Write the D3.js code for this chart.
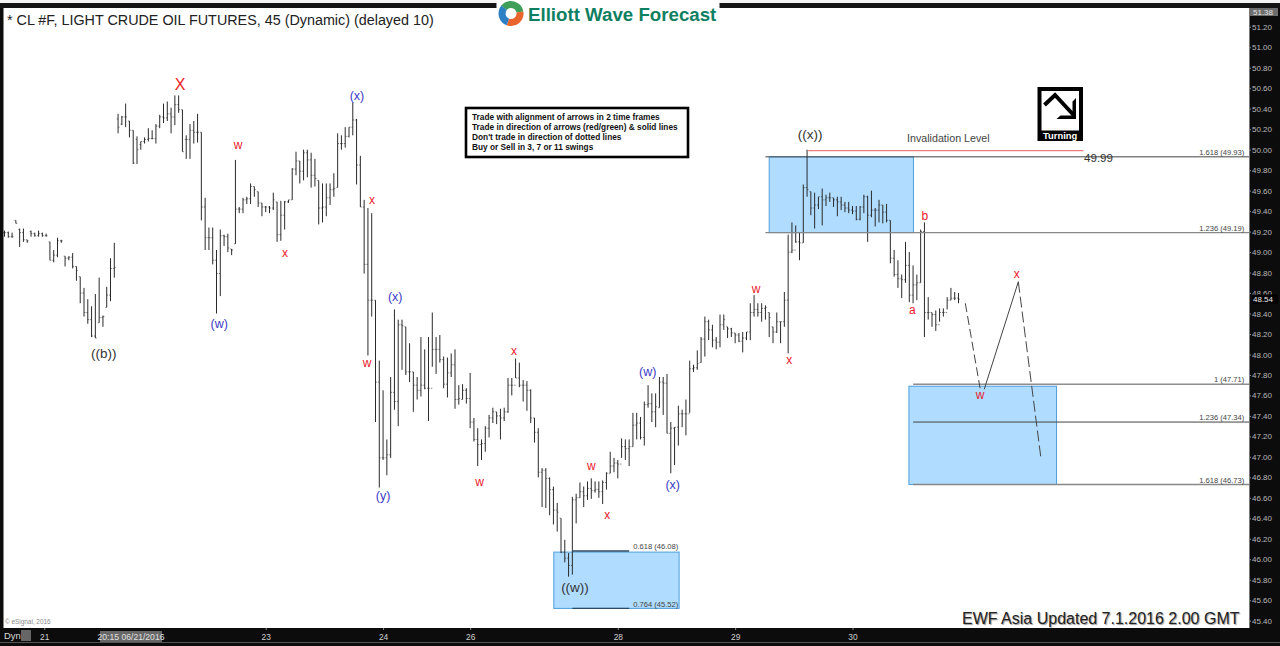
<!DOCTYPE html>
<meta charset="utf-8">
<script src="https://d3js.org/d3.v7.min.js"></script>
<style>
  html, body { margin: 0; padding: 0; background: #0c0c0c; }
  svg { display: block; font-family: "Liberation Sans", Arial, sans-serif; }
</style>
<div id="my_dataviz"></div>
<script>
// 45 min bars
var highs = [
  49.21,49.20,49.19,49.31,49.23,49.23,49.12,49.21,49.19,49.21,49.19,49.18,49.10,49.02,49.14,49.12,48.96,48.96,48.99,48.86,
  48.76,48.65,48.54,48.47,48.59,48.75,48.38,48.66,48.94,49.09,50.35,50.33,50.45,50.28,50.19,50.13,50.08,50.12,50.21,50.19,
  50.25,50.34,50.45,50.47,50.41,50.53,50.53,50.39,50.14,50.25,50.28,50.35,50.17,49.53,49.24,49.24,49.02,49.22,49.17,49.18,
  49.03,49.90,49.44,49.53,49.54,49.67,49.64,49.59,49.48,49.45,49.45,49.58,49.49,49.50,49.50,49.51,49.82,49.98,49.89,50.00,
  50.00,49.97,49.91,49.70,49.67,49.67,49.67,49.77,50.16,50.14,50.22,50.22,50.46,50.30,49.94,49.51,49.43,49.38,48.53,47.94,
  47.65,47.17,47.78,48.44,48.34,48.34,48.27,48.11,47.83,47.78,48.17,48.05,48.17,48.41,48.17,48.19,47.98,47.97,48.01,48.05,
  47.70,47.71,47.67,47.82,47.38,47.28,47.17,47.30,47.41,47.48,47.44,47.47,47.48,47.77,47.77,47.96,47.92,47.75,47.74,47.66,
  47.38,47.28,46.89,46.89,46.80,46.71,46.55,46.40,46.19,46.06,46.61,46.64,46.75,46.71,46.76,46.79,46.76,46.76,46.77,46.85,
  47.05,46.99,46.97,47.18,47.17,47.17,47.43,47.43,47.39,47.54,47.70,47.62,47.62,47.78,47.78,47.81,47.34,47.29,47.50,47.46,
  47.56,47.94,47.90,48.04,48.17,48.37,48.34,48.29,48.17,48.39,48.39,48.27,48.26,48.21,48.21,48.22,48.22,48.50,48.58,48.50,
  48.50,48.48,48.41,48.27,48.41,48.32,48.61,49.17,49.29,49.26,49.19,49.66,50.00,49.59,49.58,49.54,49.62,49.56,49.58,49.53,
  49.54,49.54,49.49,49.49,49.45,49.45,49.45,49.56,49.55,49.60,49.43,49.51,49.46,49.47,49.31,49.02,48.92,48.78,49.10,49.00,
  48.87,48.78,49.22,49.29,48.56,48.41,48.43,48.45,48.45,48.56,48.65,48.61,48.60
];
var lows = [
  49.15,49.14,49.14,49.28,49.05,49.10,49.09,49.15,49.15,49.15,49.15,49.15,48.92,48.90,48.95,49.09,48.86,48.92,48.84,48.72,
  48.50,48.37,48.30,48.17,48.16,48.31,48.27,48.46,48.52,48.75,50.16,50.24,50.22,50.12,49.86,49.86,50.00,50.06,50.08,50.10,
  50.06,50.21,50.26,50.28,50.16,50.24,50.36,49.98,49.91,49.91,50.06,50.07,49.31,49.02,49.02,48.88,48.40,48.57,49.06,49.00,
  48.97,49.08,49.38,49.38,49.47,49.47,49.54,49.44,49.35,49.39,49.38,49.41,49.10,49.11,49.22,49.48,49.51,49.75,49.67,49.70,
  49.73,49.63,49.64,49.27,49.29,49.35,49.46,49.54,49.63,50.00,50.02,50.12,50.14,49.66,49.44,48.79,47.99,48.37,47.34,46.70,
  46.97,46.82,46.99,47.46,47.30,47.85,47.80,47.73,47.44,47.56,47.59,47.66,47.35,47.88,47.81,47.92,47.67,47.58,47.78,47.47,
  47.51,47.56,47.52,47.28,47.15,46.91,46.97,47.05,47.19,47.33,47.32,47.17,47.35,47.43,47.60,47.77,47.68,47.54,47.45,47.33,
  47.14,46.80,46.51,46.50,46.43,46.34,46.27,46.06,45.97,45.83,45.85,46.35,46.60,46.51,46.58,46.59,46.65,46.60,46.54,46.68,
  46.84,46.85,46.79,46.99,46.97,46.91,47.10,47.17,47.17,47.11,47.48,47.34,47.29,47.48,47.41,47.23,46.84,46.92,47.11,47.29,
  47.21,47.43,47.83,47.85,47.92,47.98,48.14,48.07,48.05,48.07,48.24,48.16,48.17,48.11,48.12,48.02,48.14,48.14,48.37,48.37,
  48.32,48.34,48.17,48.11,48.21,48.11,48.27,48.01,48.99,49.09,48.92,49.09,49.54,49.36,49.23,49.42,49.26,49.45,49.49,49.44,
  49.35,49.41,49.39,49.38,49.37,49.31,49.31,49.38,49.10,49.34,49.25,49.29,49.28,49.29,48.89,48.76,48.65,48.55,48.70,48.51,
  48.50,48.53,48.70,48.17,48.34,48.27,48.23,48.32,48.37,48.44,48.53,48.53,48.50
];
var opens = [
  49.19,49.19,49.15,49.31,49.22,49.19,49.12,49.20,49.18,49.16,49.18,49.16,49.10,48.92,48.97,49.11,48.96,48.94,48.95,48.86,
  48.76,48.60,48.41,48.34,48.18,48.31,48.36,48.46,48.58,48.84,50.30,50.25,50.32,50.28,50.19,50.10,50.05,50.08,50.10,50.11,
  50.11,50.23,50.32,50.31,50.35,50.32,50.44,50.39,50.10,50.10,50.19,50.17,50.17,49.44,49.14,49.14,48.92,48.79,49.16,49.15,
  49.03,49.08,49.42,49.42,49.51,49.52,49.64,49.59,49.48,49.44,49.44,49.43,49.49,49.17,49.36,49.49,49.51,49.81,49.89,49.79,
  49.97,49.90,49.75,49.70,49.43,49.44,49.53,49.61,49.63,50.06,50.06,50.13,50.22,50.29,49.85,49.44,48.88,48.53,48.53,47.73,
  46.99,46.99,47.02,47.63,47.54,48.29,48.27,47.83,47.83,47.70,47.65,47.70,47.67,47.67,48.05,48.05,47.95,47.71,47.82,47.90,
  47.56,47.56,47.65,47.57,47.34,47.17,47.12,47.13,47.28,47.38,47.44,47.40,47.38,47.44,47.70,47.70,47.77,47.70,47.70,47.65,
  47.38,47.24,46.85,46.87,46.79,46.68,46.48,46.40,46.07,46.01,45.94,46.58,46.60,46.66,46.62,46.69,46.67,46.68,46.66,46.75,
  46.84,46.91,46.94,46.93,47.10,47.08,47.10,47.31,47.33,47.19,47.51,47.52,47.44,47.48,47.73,47.72,47.23,47.28,47.29,47.42,
  47.42,47.42,47.86,47.87,47.92,48.15,48.32,48.24,48.14,48.12,48.29,48.27,48.25,48.21,48.19,48.13,48.16,48.22,48.41,48.44,
  48.41,48.45,48.41,48.27,48.22,48.32,48.32,48.53,49.00,49.02,49.10,49.09,49.63,49.59,49.43,49.46,49.54,49.51,49.53,49.53,
  49.51,49.49,49.46,49.43,49.41,49.40,49.32,49.44,49.54,49.36,49.41,49.41,49.46,49.39,49.31,48.94,48.78,48.74,48.73,48.87,
  48.58,48.68,48.70,49.20,48.41,48.41,48.39,48.29,48.41,48.41,48.53,48.55,48.55
];
var closes = [
  49.19,49.15,49.15,49.28,49.19,49.12,49.11,49.18,49.16,49.18,49.16,49.16,48.92,48.97,49.11,49.11,48.94,48.95,48.86,48.82,
  48.60,48.41,48.34,48.18,48.16,48.36,48.37,48.58,48.84,48.85,50.22,50.32,50.32,50.19,49.87,50.00,50.08,50.10,50.11,50.11,
  50.23,50.32,50.31,50.35,50.32,50.44,50.39,49.98,50.10,50.19,50.17,50.17,49.44,49.14,49.14,48.92,48.79,49.16,49.15,49.04,
  49.02,49.42,49.42,49.51,49.52,49.64,49.61,49.48,49.44,49.44,49.43,49.51,49.17,49.36,49.49,49.51,49.81,49.89,49.79,49.97,
  49.90,49.75,49.72,49.43,49.44,49.53,49.61,49.62,50.06,50.06,50.13,50.22,50.29,49.85,49.44,48.88,48.53,48.53,47.73,46.99,
  46.99,47.02,47.63,47.54,48.29,48.28,47.83,47.83,47.70,47.65,47.70,47.67,47.67,48.05,48.05,47.95,47.71,47.82,47.90,47.56,
  47.57,47.65,47.57,47.34,47.17,47.12,47.13,47.28,47.38,47.44,47.40,47.38,47.44,47.70,47.70,47.77,47.70,47.70,47.65,47.38,
  47.24,46.85,46.87,46.79,46.68,46.48,46.46,46.07,46.01,45.94,46.58,46.60,46.66,46.62,46.69,46.67,46.68,46.66,46.75,46.84,
  46.91,46.94,46.93,47.10,47.08,47.10,47.31,47.33,47.19,47.51,47.52,47.44,47.49,47.73,47.72,47.23,47.28,47.29,47.42,47.42,
  47.42,47.86,47.87,47.91,48.15,48.32,48.24,48.14,48.12,48.29,48.34,48.25,48.21,48.19,48.13,48.16,48.22,48.41,48.44,48.41,
  48.45,48.46,48.36,48.22,48.32,48.32,48.53,49.00,49.02,49.10,49.09,49.63,49.61,49.43,49.46,49.54,49.51,49.53,49.53,49.51,
  49.49,49.46,49.43,49.41,49.40,49.32,49.44,49.54,49.36,49.41,49.41,49.46,49.39,49.31,48.94,48.78,48.74,48.73,48.87,48.58,
  48.68,48.70,49.20,48.41,48.41,48.39,48.29,48.41,48.41,48.53,48.55,48.55,48.54
];

var priceTicks = d3.range(0, 30).map(function (i) { return +(45.4 + i * 0.2).toFixed(2); });
var dayTicks = [10.5, 69, 100, 123, 162, 193, 224];
var dayLabels = ["21", "23", "24", "26", "28", "29", "30"];

// fib lines
var fibValues = [49.93, 49.19, 47.71, 47.34, 46.73, 46.08, 45.52];
var fibTexts = ["1.618 (49.93)", "1.236 (49.19)", "1 (47.71)", "1.236 (47.34)", "1.618 (46.73)", "0.618 (46.08)", "0.764 (45.52)"];
var fibFrom = [201, 201, 240, 240, 240, 150, 150];
var fibTo = [328.8, 328.8, 328.8, 328.8, 328.8, 165, 165];
var fibLabelEnd = [327.5, 327.5, 327.5, 327.5, 327.5, 178, 178];

// blue boxes: left bar, right bar, top price, bottom price
var boxLeft = [202, 238.9, 145.1];
var boxRight = [240.1, 277.9, 178.2];
var boxTop = [49.93, 47.69, 46.07];
var boxBottom = [49.19, 46.73, 45.52];

var waveText = ["X", "(x)", "w", "x", "x", "(w)", "((b))", "w", "(x)", "(y)", "x", "w", "w", "x", "(w)", "(x)", "((w))", "w", "x", "((x))", "a", "b", "x", "w"];
var waveBar = [46.4, 93.1, 61.7, 97.1, 74.1, 56.7, 26.2, 95.8, 103.2, 100, 134.6, 125.5, 155, 159.2, 169.9, 176.5, 150.7, 198.5, 207.3, 212.8, 239.8, 243.1, 267.4, 257.7];
var wavePrice = [50.63, 50.52, 50.04, 49.51, 48.99, 48.30, 48.01, 47.92, 48.56, 46.62, 48.03, 46.75, 46.91, 46.43, 47.83, 46.73, 45.72, 48.64, 47.94, 50.15, 48.43, 49.35, 48.78, 47.60];
var waveKind = ["big", "blue", "red", "red", "red", "blue", "black", "red", "blue", "blue", "red", "red", "red", "red", "blue", "blue", "black", "red", "red", "black", "red", "red", "red", "red"];

// projected path: w then x then down
var pathBar = [253.8, 257.7, 258.8, 267.8, 273.8];
var pathPrice = [48.50, 47.67, 47.66, 48.71, 46.98];

var notes = [
  "Trade with alignment of arrows in 2 time frames",
  "Trade in direction of arrows (red/green) & solid lines",
  "Don't trade in direction of dotted lines",
  "Buy or Sell in 3, 7 or 11 swings"
];

var width = 1280, height = 646;

var svg = d3.select("#my_dataviz")
    .append("svg")
    .attr("width", width)
    .attr("height", height);

var x = d3.scaleLinear().domain([0, 252]).range([4.5, 958.5]);
var y = d3.scaleLinear().domain([45.40, 51.20]).range([620.7, 26.8]);

// window frame
svg.append("rect").attr("width", width).attr("height", 3).attr("fill", "#f4f4f4");
svg.append("rect").attr("y", 3).attr("width", width).attr("height", 5).attr("fill", "#141414");
svg.append("rect").attr("x", 3.5).attr("y", 8).attr("width", 1245.5).attr("height", 620).attr("fill", "#fff");
svg.append("line").attr("x1", 0).attr("x2", width).attr("y1", 642.5).attr("y2", 642.5).attr("stroke", "#555");

// blue boxes
svg.append("g").selectAll("rect")
    .data(boxLeft)
    .enter()
    .append("rect")
    .attr("x", function (d) { return x(d); })
    .attr("width", function (d, i) { return x(boxRight[i]) - x(d); })
    .attr("y", function (d, i) { return y(boxTop[i]); })
    .attr("height", function (d, i) { return y(boxBottom[i]) - y(boxTop[i]); })
    .attr("fill", "#afdcff")
    .attr("stroke", "#4d9fdc");

// OHLC bars
var bars = svg.append("g").attr("stroke", "#2a2a2a").selectAll("g")
    .data(highs)
    .enter()
    .append("g");
bars.append("line")
    .attr("x1", function (d, i) { return x(i); })
    .attr("x2", function (d, i) { return x(i); })
    .attr("y1", function (d) { return y(d); })
    .attr("y2", function (d, i) { return y(lows[i]); });
bars.append("line")
    .attr("x1", function (d, i) { return x(i) - 1.4; })
    .attr("x2", function (d, i) { return x(i); })
    .attr("y1", function (d, i) { return y(opens[i]); })
    .attr("y2", function (d, i) { return y(opens[i]); })
    .attr("stroke-width", 0.6);
bars.append("line")
    .attr("x1", function (d, i) { return x(i); })
    .attr("x2", function (d, i) { return x(i) + 1.4; })
    .attr("y1", function (d, i) { return y(closes[i]); })
    .attr("y2", function (d, i) { return y(closes[i]); })
    .attr("stroke-width", 0.6);

// fib levels
var fibColor = ["#444", "#888", "#555", "#444", "#888", "#2b4a66", "#2b4a66"];
var fibWidth = [1, 1.4, 1, 1, 1.4, 1.4, 1.4];
svg.append("g").selectAll("line")
    .data(fibValues)
    .enter()
    .append("line")
    .attr("x1", function (d, i) { return x(fibFrom[i]); })
    .attr("x2", function (d, i) { return x(fibTo[i]); })
    .attr("y1", function (d) { return y(d); })
    .attr("y2", function (d) { return y(d); })
    .attr("stroke", function (d, i) { return fibColor[i]; })
    .attr("stroke-width", function (d, i) { return fibWidth[i]; });
svg.append("g").selectAll("text")
    .data(fibValues)
    .enter()
    .append("text")
    .attr("x", function (d, i) { return x(fibLabelEnd[i]); })
    .attr("y", function (d) { return y(d) - 1.8; })
    .style("text-anchor", "end")
    .style("font-size", "7.6px")
    .attr("fill", "#444")
    .text(function (d, i) { return fibTexts[i]; });

// invalidation level
svg.append("line")
    .attr("x1", x(212.3)).attr("x2", x(285))
    .attr("y1", y(49.99)).attr("y2", y(49.99))
    .attr("stroke", "#ee7b7b")
    .attr("stroke-width", 1.2);
svg.append("text").attr("x", x(238.4)).attr("y", 142)
    .style("font-size", "10.7px").attr("fill", "#444").text("Invalidation Level");
svg.append("text").attr("x", 1084).attr("y", 161.5)
    .style("font-size", "11.6px").attr("fill", "#333").text("49.99");

// projected path
var pathLine = d3.line()
    .x(function (d) { return x(d[0]); })
    .y(function (d) { return y(d[1]); });
var pathPts = pathBar.map(function (d, i) { return [d, pathPrice[i]]; });
svg.append("path").attr("d", pathLine(pathPts.slice(0, 2)))
    .attr("fill", "none").attr("stroke", "#444").attr("stroke-dasharray", "9,4");
svg.append("path").attr("d", pathLine(pathPts.slice(2, 4)))
    .attr("fill", "none").attr("stroke", "#444");
svg.append("path").attr("d", pathLine(pathPts.slice(3, 5)))
    .attr("fill", "none").attr("stroke", "#444").attr("stroke-dasharray", "11,4");

// wave labels
var waveColor = { big: "#ee2222", red: "#e8202a", blue: "#3a3ac8", black: "#333" };
var waveSize = { big: 16, red: 12, blue: 12.5, black: 13.5 };
svg.append("g").selectAll("text")
    .data(waveText)
    .enter()
    .append("text")
    .attr("x", function (d, i) { return x(waveBar[i]); })
    .attr("y", function (d, i) { return y(wavePrice[i]); })
    .attr("dy", "0.32em")
    .style("text-anchor", "middle")
    .style("font-size", function (d, i) { return waveSize[waveKind[i]] + "px"; })
    .attr("fill", function (d, i) { return waveColor[waveKind[i]]; })
    .text(function (d) { return d; });

// header
svg.append("text").attr("x", 7).attr("y", 25)
    .style("font-size", "14.35px").attr("fill", "#222")
    .text("* CL #F, LIGHT CRUDE OIL FUTURES, 45 (Dynamic) (delayed 10)");

// logo
svg.append("rect").attr("x", 496.5).attr("width", 223).attr("height", 27).attr("fill", "#fff");
var logoArc = d3.arc().innerRadius(5.5).outerRadius(12.5);
var logo = svg.append("g").attr("transform", "translate(511,13.5)");
logo.append("path").attr("d", logoArc({ startAngle: -0.9, endAngle: 1.4 })).attr("fill", "#3f9f58");
logo.append("path").attr("d", logoArc({ startAngle: 1.4, endAngle: 3.5 })).attr("fill", "#e8642c");
logo.append("path").attr("d", logoArc({ startAngle: 3.5, endAngle: 5.4 })).attr("fill", "#2d80c4");
svg.append("text").attr("x", 528).attr("y", 20.5)
    .style("font-size", "18.7px").style("font-weight", "bold").attr("fill", "#0f7f62")
    .text("Elliott Wave Forecast");

// notes box
svg.append("rect").attr("x", 466).attr("y", 108).attr("width", 222).attr("height", 49)
    .attr("fill", "#fff").attr("stroke", "#000").attr("stroke-width", 2.6);
svg.append("g").selectAll("text")
    .data(notes)
    .enter()
    .append("text")
    .attr("x", 472)
    .attr("y", function (d, i) { return 120 + i * 10; })
    .style("font-size", "8.3px").style("font-weight", "bold").attr("fill", "#111")
    .text(function (d) { return d; });

// turning icon
var icon = svg.append("g").attr("transform", "translate(1037.5,87)");
icon.append("rect").attr("width", 45.5).attr("height", 54).attr("fill", "#000");
icon.append("rect").attr("x", 4).attr("y", 4).attr("width", 37.5).attr("height", 39.5).attr("fill", "#fff");
icon.append("path").attr("d", "M7,18 L17.5,8 L37,29").attr("fill", "none").attr("stroke", "#000").attr("stroke-width", 4);
icon.append("path").attr("d", "M38.5,11 L38.5,32 L19,32 L23,28.5 L35,28.5 L35,14.5 Z").attr("fill", "#000");
icon.append("text").attr("x", 22.7).attr("y", 52)
    .style("text-anchor", "middle").style("font-size", "9.4px").style("font-weight", "bold").attr("fill", "#fff")
    .text("Turning");

// footers
svg.append("text").attr("x", 962).attr("y", 623.5)
    .style("font-size", "16px").style("text-shadow", "1px 1px 1px #999").attr("fill", "#222")
    .text("EWF Asia Updated 7.1.2016 2.00 GMT");
svg.append("text").attr("x", 5).attr("y", 624)
    .style("font-size", "6.4px").attr("fill", "#888").text("© eSignal, 2016");

// price axis
var yAxis = svg.append("g")
    .attr("transform", "translate(1249,0)")
    .call(d3.axisRight(y).tickValues(priceTicks).tickFormat(d3.format(".2f")).tickSize(2).tickPadding(1));
yAxis.select(".domain").attr("stroke", "#777").attr("d", "M0.5,8V628");
yAxis.selectAll(".tick line").attr("stroke", "#888");
yAxis.selectAll("text").attr("fill", "#b8b8b8").style("font-size", "8px").style("font-family", "'Liberation Sans'");

// last price and top price tags
svg.append("rect").attr("x", 1252).attr("y", 294.5).attr("width", 26).attr("height", 9.5).attr("fill", "#000");
svg.append("text").attr("x", 1253).attr("y", 302)
    .style("font-size", "8px").attr("fill", "#eee").text("48.54");
svg.append("rect").attr("x", 1250).attr("y", 8).attr("width", 28).attr("height", 8).attr("fill", "#6e6e6e");
svg.append("text").attr("x", 1253).attr("y", 15)
    .style("font-size", "8px").attr("fill", "#e4e4e4").text("51.38");

// time axis
var xAxis = svg.append("g")
    .attr("transform", "translate(0,628)")
    .call(d3.axisBottom(x).tickValues(dayTicks).tickFormat(function (d, i) { return dayLabels[i]; }).tickSize(2).tickPadding(4));
xAxis.select(".domain").remove();
xAxis.selectAll(".tick line").attr("stroke", "#888");
xAxis.selectAll("text").attr("fill", "#d0d0d0").style("font-size", "8.4px").style("font-family", "'Liberation Sans'");

// cursor date, Dyn button
svg.append("rect").attr("x", 100).attr("y", 631).attr("width", 62).attr("height", 11).attr("fill", "#666");
svg.append("text").attr("x", 131).attr("y", 640)
    .style("text-anchor", "middle").style("font-size", "8.6px").attr("fill", "#e0e0e0").text("20:15 06/21/2016");
svg.append("text").attr("x", 4).attr("y", 638.5)
    .style("font-size", "9.4px").attr("fill", "#ddd").text("Dyn");
svg.append("rect").attr("x", 21).attr("y", 630).attr("width", 10).attr("height", 11).attr("fill", "#666");
</script>
